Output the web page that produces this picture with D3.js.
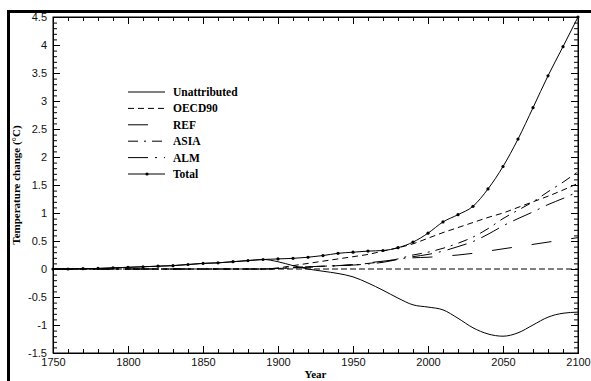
<!DOCTYPE html>
<html>
<head>
<meta charset="utf-8">
<script src="https://cdn.jsdelivr.net/npm/d3@7"></script>
<style>
  body { margin: 0; background: #fff; }
  svg { display: block; }
</style>
</head>
<body>
<div id="chart"></div>
<script>
// years sampled every decade
const years = d3.range(1750, 2101, 10);

const unattributed = [0, 0, 0.005, 0.01, 0.02, 0.03, 0.04, 0.05, 0.06, 0.08, 0.1, 0.11, 0.13, 0.15, 0.17,
  0.13, 0.06, 0.0, -0.04, -0.08, -0.14, -0.25, -0.38, -0.52, -0.64, -0.68, -0.73, -0.88, -1.05, -1.16,
  -1.2, -1.14, -1.0, -0.86, -0.79, -0.77];
const oecd90 = [0, 0, 0, 0, 0, 0, 0, 0, 0, 0, 0, 0, 0, 0, 0,
  0.02, 0.06, 0.1, 0.14, 0.18, 0.22, 0.26, 0.32, 0.38, 0.45, 0.55, 0.65, 0.74, 0.83, 0.92,
  1.0, 1.1, 1.2, 1.3, 1.41, 1.53];
const ref = [0, 0, 0, 0, 0, 0, 0, 0, 0, 0, 0, 0, 0, 0, 0,
  0.0, 0.02, 0.03, 0.04, 0.06, 0.08, 0.11, 0.14, 0.17, 0.2, 0.21, 0.23, 0.25, 0.28, 0.32,
  0.36, 0.4, 0.44, 0.48, 0.52, 0.56];
const asia = [0, 0, 0, 0, 0, 0, 0, 0, 0, 0, 0, 0, 0, 0, 0,
  0.01, 0.03, 0.04, 0.05, 0.06, 0.07, 0.1, 0.13, 0.18, 0.25, 0.3, 0.37, 0.46, 0.57, 0.72,
  0.9, 1.05, 1.2, 1.38, 1.55, 1.74];
const alm = [0, 0, 0, 0, 0, 0, 0, 0, 0, 0, 0, 0, 0, 0, 0,
  0.01, 0.02, 0.04, 0.05, 0.06, 0.07, 0.09, 0.12, 0.17, 0.22, 0.26, 0.32, 0.4, 0.49, 0.62,
  0.77, 0.9, 1.02, 1.15, 1.26, 1.38];
const total = [0, 0, 0.005, 0.01, 0.02, 0.03, 0.04, 0.05, 0.06, 0.08, 0.1, 0.11, 0.13, 0.15, 0.17,
  0.18, 0.19, 0.21, 0.24, 0.28, 0.3, 0.32, 0.33, 0.38, 0.48, 0.64, 0.84, 0.97, 1.12, 1.43,
  1.83, 2.32, 2.88, 3.45, 3.97, 4.5];

const seriesNames = ["Unattributed", "OECD90", "REF", "ASIA", "ALM", "Total"];
const seriesValues = [unattributed, oecd90, ref, asia, alm, total];
const dashes = [null, "6,4", "20,20", "10,6,2,6", "20,7,2,7", null];

const xTicks = d3.range(1750, 2101, 50);
const yTicks = d3.range(-1.5, 4.51, 0.5);

const width = 591, height = 381;
const margin = { top: 17, right: 13, bottom: 28, left: 53 };

const svg = d3.select("#chart").append("svg")
  .attr("width", width)
  .attr("height", height);

// outer frame, only top and left edges show
svg.append("path")
  .attr("d", `M8.5,${height + 5}V11.5H${width + 5}`)
  .attr("fill", "none")
  .attr("stroke", "#000")
  .attr("stroke-width", 3);

const x = d3.scaleLinear().domain([1750, 2100]).range([margin.left, width - margin.right]);
const y = d3.scaleLinear().domain([-1.5, 4.5]).range([height - margin.bottom, margin.top]);

const tickFont = "Liberation Sans, Arial, sans-serif";
const fmt = d => String(+d.toFixed(1));

const minorX = d3.range(1750, 2101, 10);
const minorY = d3.range(-15, 46, 1).map(v => v / 10);

// bottom
let g = svg.append("g").attr("transform", `translate(0,${y(-1.5)})`)
  .call(d3.axisTop(x).tickValues(minorX).tickSize(4).tickFormat(""));
g.append("g").call(d3.axisTop(x).tickValues(xTicks).tickSize(7).tickFormat(""));
g = svg.append("g").attr("transform", `translate(0,${y(-1.5)})`)
  .call(d3.axisBottom(x).tickValues(xTicks).tickSize(0).tickPadding(5).tickFormat(d3.format("d")));
g.select(".domain").remove();
g.selectAll("text").attr("font-family", tickFont).attr("font-size", 11).attr("fill", "#111");

// top
g = svg.append("g").attr("transform", `translate(0,${y(4.5)})`)
  .call(d3.axisBottom(x).tickValues(minorX).tickSize(4).tickFormat(""));
g.append("g").call(d3.axisBottom(x).tickValues(xTicks).tickSize(7).tickFormat(""));

// left
g = svg.append("g").attr("transform", `translate(${x(1750)},0)`)
  .call(d3.axisRight(y).tickValues(minorY).tickSize(4).tickFormat(""));
g.append("g").call(d3.axisRight(y).tickValues(yTicks).tickSize(7).tickFormat(""));
g = svg.append("g").attr("transform", `translate(${x(1750)},0)`)
  .call(d3.axisLeft(y).tickValues(yTicks).tickSize(0).tickPadding(6).tickFormat(fmt));
g.select(".domain").remove();
g.selectAll("text").attr("font-family", tickFont).attr("font-size", 11).attr("fill", "#111");

// right
g = svg.append("g").attr("transform", `translate(${x(2100)},0)`)
  .call(d3.axisLeft(y).tickValues(minorY).tickSize(4).tickFormat(""));
g.append("g").call(d3.axisLeft(y).tickValues(yTicks).tickSize(7).tickFormat(""));

svg.selectAll(".tick line").attr("stroke", "#000");
svg.selectAll(".domain").attr("stroke", "#000");

// axis titles
svg.append("text")
  .attr("x", (x(1750) + x(2100)) / 2)
  .attr("y", 378)
  .attr("text-anchor", "middle")
  .attr("font-family", "Liberation Serif, Times New Roman, serif")
  .attr("font-weight", "bold")
  .attr("font-size", 11)
  .text("Year");

svg.append("text")
  .attr("transform", `translate(20,${(y(4.5) + y(-1.5)) / 2}) rotate(-90)`)
  .attr("text-anchor", "middle")
  .attr("font-family", "Liberation Serif, Times New Roman, serif")
  .attr("font-weight", "bold")
  .attr("font-size", 11)
  .text("Temperature change (\u00B0C)");

// zero reference line
svg.append("line")
  .attr("x1", x(1750)).attr("x2", x(2100))
  .attr("y1", y(0)).attr("y2", y(0))
  .attr("stroke", "#000")
  .attr("stroke-dasharray", "6,3");

const line = d3.line()
  .x((d, i) => x(years[i]))
  .y(d => y(d))
  .curve(d3.curveMonotoneX);

seriesValues.forEach((vals, k) => {
  svg.append("path")
    .datum(vals)
    .attr("d", line)
    .attr("fill", "none")
    .attr("stroke", "#000")
    .attr("stroke-width", 1)
    .attr("stroke-dasharray", dashes[k]);
});

// dots on total
svg.selectAll(".dot")
  .data(total)
  .enter().append("circle")
  .attr("cx", (d, i) => x(years[i]))
  .attr("cy", d => y(d))
  .attr("r", 1.6)
  .attr("fill", "#000");

// legend
const legend = svg.append("g").attr("transform", "translate(128,92)");
seriesNames.forEach((name, k) => {
  const row = legend.append("g").attr("transform", `translate(0,${k * 16.4})`);
  row.append("line")
    .attr("x1", 0).attr("x2", 37)
    .attr("stroke", "#000")
    .attr("stroke-dasharray", dashes[k]);
  if (name === "Total") {
    row.append("circle").attr("cx", 19).attr("r", 1.6).attr("fill", "#000");
  }
  row.append("text")
    .attr("x", 45)
    .attr("y", 4)
    .attr("font-family", "Liberation Serif, Times New Roman, serif")
    .attr("font-weight", "bold")
    .attr("font-size", 11.5)
    .text(name);
});

// axis box lines on top of everything
svg.append("rect")
  .attr("x", x(1750)).attr("y", y(4.5))
  .attr("width", x(2100) - x(1750)).attr("height", y(-1.5) - y(4.5))
  .attr("fill", "none").attr("stroke", "#000");
</script>
</body>
</html>
